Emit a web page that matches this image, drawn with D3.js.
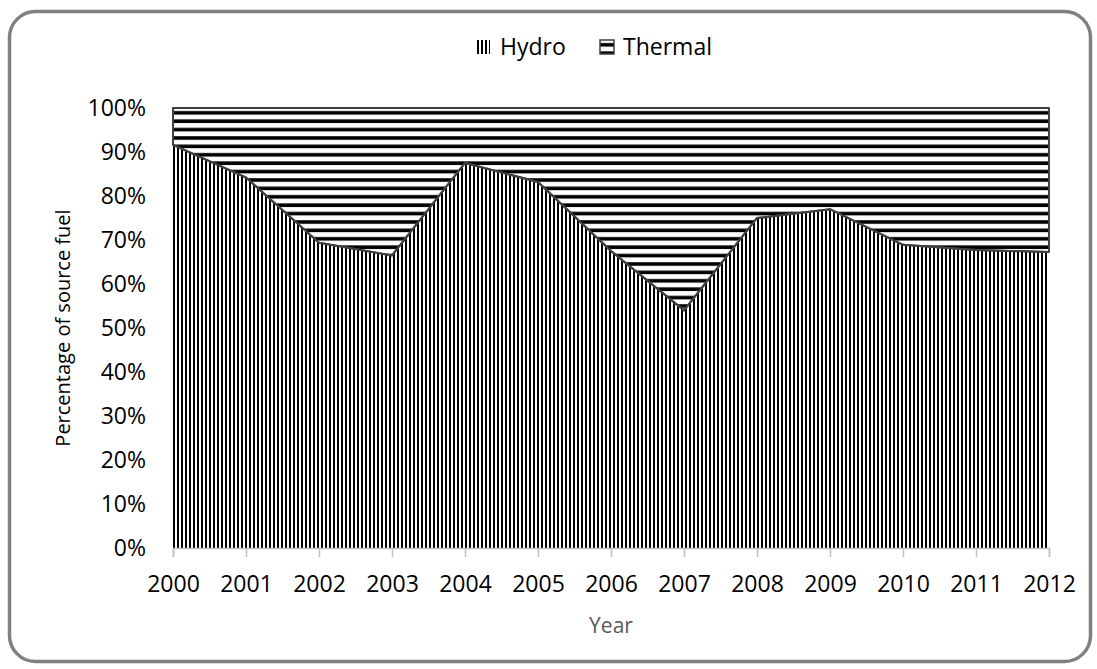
<!DOCTYPE html>
<html lang="en">
<head>
<meta charset="UTF-8">
<title>Hydro vs Thermal</title>
<script src="https://d3js.org/d3.v7.min.js"></script>
<style>
    * { margin: 0; padding: 0; box-sizing: border-box; }
    body { background: #ffffff; font-family: 'Open Sans', sans-serif; }
    .axis text { fill: #000; font-size: 23px; font-family: 'Open Sans', sans-serif; }
    .legend text { fill: #000; font-size: 23px; }
</style>
</head>
<body>
<div id="chart"></div>
<script>
    const years = [2000, 2001, 2002, 2003, 2004, 2005, 2006, 2007, 2008, 2009, 2010, 2011, 2012];
    const hydro = [91.6, 84.2, 69.4, 66.5, 87.5, 83.2, 67.5, 54.0, 75.0, 77.0, 68.9, 67.7, 67.3];
    const thermal = [8.4, 15.8, 30.6, 33.5, 12.5, 16.8, 32.5, 46.0, 25.0, 23.0, 31.1, 32.3, 32.7];
    const seriesNames = ["Hydro", "Thermal"];
    const yTicks = [0, 10, 20, 30, 40, 50, 60, 70, 80, 90, 100];

    const W = 1097, H = 669;
    const margin = { top: 108, right: 48, bottom: 121, left: 173 };
    const width = W - margin.left - margin.right;
    const height = H - margin.top - margin.bottom;

    const svg = d3.select("#chart").append("svg")
        .attr("width", W)
        .attr("height", H);

    // outer rounded frame
    svg.append("rect")
        .attr("x", 9.5).attr("y", 11.5)
        .attr("width", 1081).attr("height", 650)
        .attr("rx", 26)
        .attr("fill", "#fff")
        .attr("stroke", "#808080")
        .attr("stroke-width", 3.5);

    const defs = svg.append("defs");
    const vp = defs.append("pattern")
        .attr("id", "vert")
        .attr("patternUnits", "userSpaceOnUse")
        .attr("width", 4).attr("height", 4);
    vp.append("rect").attr("width", 4).attr("height", 4).attr("fill", "#fff");
    vp.append("rect").attr("width", 2).attr("height", 4).attr("fill", "#000");

    const hp = defs.append("pattern")
        .attr("id", "horiz")
        .attr("patternUnits", "userSpaceOnUse")
        .attr("width", 8).attr("height", 8.4);
    hp.append("rect").attr("width", 8).attr("height", 8.4).attr("fill", "#fff");
    hp.append("rect").attr("y", 3).attr("width", 8).attr("height", 3.6).attr("fill", "#000");

    const fills = { Hydro: "url(#vert)", Thermal: "url(#horiz)" };

    const g = svg.append("g")
        .attr("transform", `translate(${margin.left},${margin.top})`);

    const x = d3.scaleLinear()
        .domain(d3.extent(years))
        .range([0, width]);

    const y = d3.scaleLinear()
        .domain([0, 100])
        .range([height, 0]);

    const table = years.map((yr, i) => ({ year: yr, Hydro: hydro[i], Thermal: thermal[i] }));
    const stacked = d3.stack().keys(seriesNames)(table);

    const area = d3.area()
        .x(d => x(d.data.year))
        .y0(d => y(d[0]))
        .y1(d => y(d[1]));

    g.selectAll(".series")
        .data(stacked)
        .join("path")
        .attr("class", "series")
        .attr("d", area)
        .attr("fill", d => fills[d.key])
        .attr("stroke", d => d.key === "Thermal" ? "#404040" : "none")
        .attr("stroke-width", 2)
        .attr("stroke-linejoin", "round");

    // boundary line over the hydro top
    g.append("path")
        .datum(stacked[0])
        .attr("d", d3.line().x(d => x(d.data.year)).y(d => y(d[1])))
        .attr("fill", "none")
        .attr("stroke", "#404040")
        .attr("stroke-width", 2);

    // x axis
    const xAxis = g.append("g")
        .attr("class", "axis")
        .attr("transform", `translate(0,${height})`)
        .call(d3.axisBottom(x).tickValues(years).tickFormat(d3.format("d")).tickSize(9).tickPadding(19));
    xAxis.selectAll("line, path").attr("stroke", "#bfbfbf").attr("stroke-width", 1.5);

    // y axis (labels only)
    const yAxis = g.append("g")
        .attr("class", "axis")
        .call(d3.axisLeft(y).tickValues(yTicks).tickFormat(d => d + "%").tickSize(0).tickPadding(27));
    yAxis.select(".domain").remove();

    // axis titles
    svg.append("text")
        .attr("x", 611).attr("y", 633)
        .attr("text-anchor", "middle")
        .attr("fill", "#595959")
        .style("font-size", "21px")
        .text("Year");

    svg.append("text")
        .attr("transform", `translate(70,${margin.top + height / 2}) rotate(-90)`)
        .attr("text-anchor", "middle")
        .attr("fill", "#000")
        .style("font-size", "20px")
        .text("Percentage of source fuel");

    // legend
    const legend = svg.append("g").attr("class", "legend");
    const hy = legend.append("g").attr("transform", "translate(477,40)");
    hy.append("rect").attr("width", 13).attr("height", 14).attr("fill", "url(#vert)");
    hy.append("text").attr("x", 23).attr("y", 15).text("Hydro");

    const th = legend.append("g").attr("transform", "translate(600,40)");
    th.append("rect").attr("width", 14).attr("height", 14)
        .attr("fill", "url(#horiz)").attr("stroke", "#404040").attr("stroke-width", 1.5);
    th.append("text").attr("x", 23).attr("y", 15).text("Thermal");
</script>
</body>
</html>
